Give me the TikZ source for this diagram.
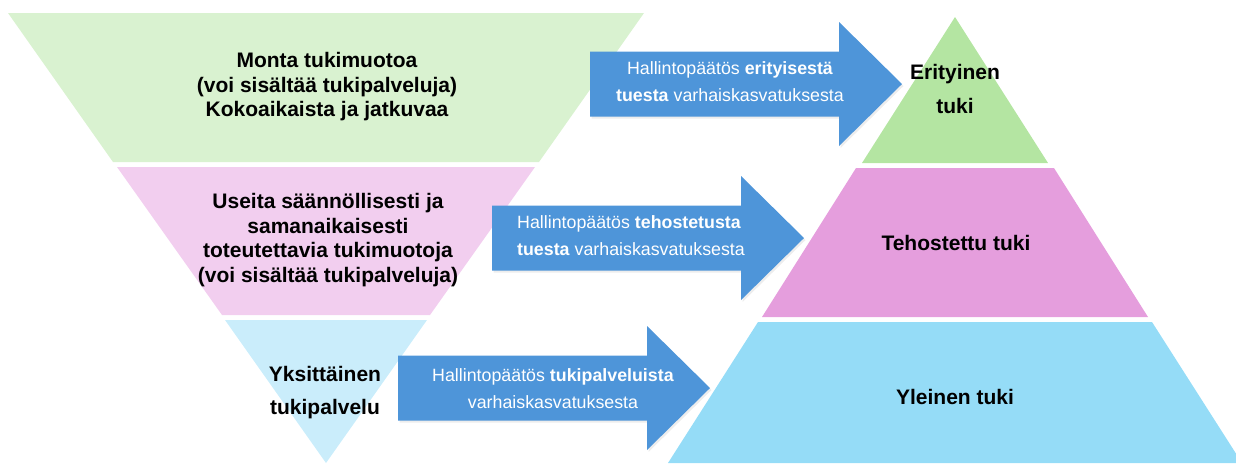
\documentclass[tikz,border=0pt]{standalone}
\usepackage{fontspec}
\setmainfont{Liberation Sans}
\usepackage{tikz}
\usetikzlibrary{positioning, calc}

\definecolor{lgreen}{HTML}{D9F2D0}
\definecolor{lpink}{HTML}{F2CEEF}
\definecolor{lblue}{HTML}{CAEDFB}
\definecolor{mgreen}{HTML}{B4E5A2}
\definecolor{mpink}{HTML}{E59EDD}
\definecolor{mblue}{HTML}{95DCF7}
\definecolor{arrowblue}{HTML}{4E95D9}

\tikzset{
  levellabel/.style={align=center, text=black, font=\fontsize{10.5}{12.25}\selectfont\bfseries},
  decisionlabel/.style={align=center, text=white, font=\fontsize{8.9}{13.5}\selectfont},
  decisionarrow/.style={fill=arrowblue}
}

\begin{document}
\begin{tikzpicture}[x=0.5pt, y=-0.5pt]
    \useasboundingbox (0,0) rectangle (1236,463);
    \clip (0,0) rectangle (1236,463);
    % Left funnel
    \fill[lgreen] (8,13) -- (644,13) -- (539,162) -- (113,162) -- cycle;
    \fill[lpink] (117,167) -- (535,167) -- (430,315) -- (222,315) -- cycle;
    \fill[lblue] (225,320) -- (427,320) -- (326,463) -- cycle;
    % Right pyramid
    \fill[mgreen] (955,17) -- (1048,163) -- (862,163) -- cycle;
    \fill[mpink] (856,168) -- (1054,168) -- (1148,317) -- (762,317) -- cycle;
    \fill[mblue] (758,322) -- (1152,322) -- (1242,463) -- (668,463) -- cycle;
    % Decision arrows
    \foreach \ax/\ay in {590/84, 492/238, 398/388}{
      \fill[black!7] ($(\ax,\ay)+(1.5,2)$) ++(0,-32.5) -- ++(249,0) -- ++(0,-29.5) -- ++(63,62) -- ++(-63,62) -- ++(0,-29.5) -- ++(-249,0) -- cycle;
      \fill[decisionarrow] (\ax,\ay) ++(0,-32.5) -- ++(249,0) -- ++(0,-29.5) -- ++(63,62) -- ++(-63,62) -- ++(0,-29.5) -- ++(-249,0) -- cycle;
    }
    % Left texts
    \node[levellabel] (many) at (327,87) {Monta tukimuotoa\\(voi sisältää tukipalveluja)\\Kokoaikaista ja jatkuvaa};
    \node[levellabel] (several) at (328,240) {Useita säännöllisesti ja\\samanaikaisesti\\toteutettavia tukimuotoja\\(voi sisältää tukipalveluja)};
    \node[levellabel, font=\fontsize{10.5}{16.5}\selectfont\bfseries] (single) at (325,393) {Yksittäinen\\tukipalvelu};
    % Arrow texts
    \node[decisionlabel] (special) at (730,82) {Hallintopäätös \textbf{erityisestä}\\\textbf{tuesta} varhaiskasvatuksesta};
    \node[decisionlabel, align=left] (enhanced) at (631,236) {Hallintopäätös \textbf{tehostetusta}\\\textbf{tuesta} varhaiskasvatuksesta};
    \node[decisionlabel] (services) at (553,389) {Hallintopäätös \textbf{tukipalveluista}\\varhaiskasvatuksesta};
    % Right texts
    \node[levellabel, font=\fontsize{10.5}{17}\selectfont\bfseries] (erit) at (955,89) {Erityinen\\tuki};
    \node[levellabel] (tehos) at (956,243) {Tehostettu tuki};
    \node[levellabel] (yleinen) at (955,397) {Yleinen tuki};
\end{tikzpicture}
\end{document}
